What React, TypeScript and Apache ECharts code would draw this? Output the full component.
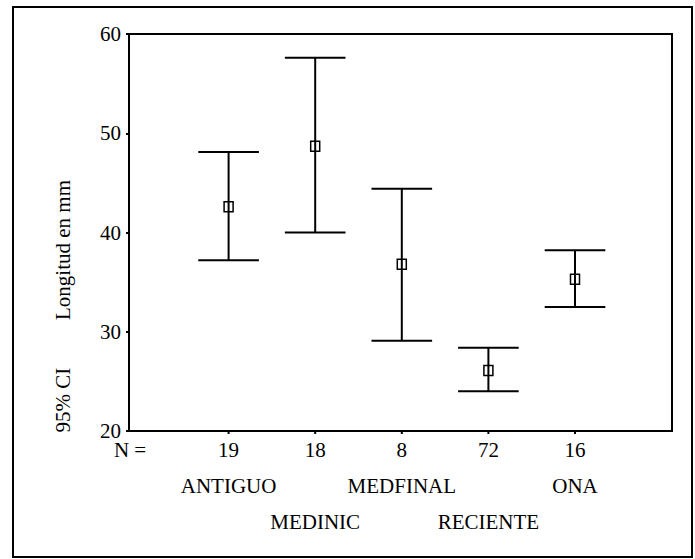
import React, { useEffect, useRef } from "react";
import * as echarts from "echarts";

const groups = ["ANTIGUO", "MEDINIC", "MEDFINAL", "RECIENTE", "ONA"];
const counts = [19, 18, 8, 72, 16];
const means = [42.6, 48.7, 36.8, 26.1, 35.3];
const lower = [37.2, 40.0, 29.1, 24.0, 32.5];
const upper = [48.1, 57.6, 44.4, 28.4, 38.2];
const yTicks = { min: 20, max: 60, interval: 10 };

const FONT = "'Liberation Serif', 'Times New Roman', serif";

export default function App() {
  const ref = useRef<HTMLDivElement>(null);
  useEffect(() => {
    if (!ref.current) return;
    const chart = echarts.init(ref.current, null, { renderer: "svg" });
    const data = groups.map((g, i) => [i, means[i], lower[i], upper[i], counts[i]]);
    const capHalf = 0.35;
    chart.setOption({
      animation: false,
      backgroundColor: "#fff",
      grid: {
        left: 129,
        right: 23,
        top: 34,
        bottom: 128,
        show: true,
        borderColor: "#000",
        borderWidth: 2,
      },
      xAxis: {
        type: "value",
        min: -1.15,
        max: 5.12,
        axisLine: { show: true, onZero: false, lineStyle: { color: "#000", width: 2 } },
        axisTick: { show: false },
        axisLabel: { show: false },
        splitLine: { show: false },
      },
      yAxis: {
        type: "value",
        min: yTicks.min,
        max: yTicks.max,
        interval: yTicks.interval,
        axisLine: { show: true, onZero: false, lineStyle: { color: "#000", width: 2 } },
        axisTick: { show: true, length: 3, lineStyle: { color: "#000", width: 2 } },
        axisLabel: {
          color: "#000",
          fontFamily: FONT,
          fontSize: 21,
          margin: 8,
        },
        splitLine: { show: false },
      },
      graphic: [
        {
          type: "rect",
          shape: { x: 13, y: 7, width: 679, height: 550 },
          style: { fill: "none", stroke: "#000", lineWidth: 2 },
          z: 10,
        },
        {
          type: "text",
          x: 63,
          y: 400,
          rotation: Math.PI / 2,
          style: {
            text: "95% CI",
            align: "center",
            verticalAlign: "middle",
            fontFamily: FONT,
            fontSize: 21,
            fill: "#000",
          },
        },
        {
          type: "text",
          x: 63,
          y: 250,
          rotation: Math.PI / 2,
          style: {
            text: "Longitud en mm",
            align: "center",
            verticalAlign: "middle",
            fontFamily: FONT,
            fontSize: 21,
            fill: "#000",
          },
        },
        {
          type: "text",
          x: 130,
          y: 450,
          style: {
            text: "N =",
            align: "center",
            verticalAlign: "middle",
            fontFamily: FONT,
            fontSize: 21,
            fill: "#000",
          },
        },
      ],
      series: [
        {
          type: "custom",
          data,
          clip: false,
          renderItem: (params: any, api: any) => {
            const x = api.value(0);
            const m = api.value(1);
            const lo = api.value(2);
            const hi = api.value(3);
            const n = api.value(4);
            const idx = params.dataIndex;
            const pTop = api.coord([x, hi]);
            const pBot = api.coord([x, lo]);
            const pMean = api.coord([x, m]);
            const pL = api.coord([x - capHalf, hi]);
            const pR = api.coord([x + capHalf, hi]);
            const pBase = api.coord([x, yTicks.min]);
            const lineStyle = { stroke: "#000", lineWidth: 2 };
            const font = { fontFamily: FONT, fontSize: 21, fill: "#000", align: "center", verticalAlign: "middle" };
            return {
              type: "group",
              children: [
                { type: "line", shape: { x1: pTop[0], y1: pTop[1], x2: pBot[0], y2: pBot[1] }, style: lineStyle },
                { type: "line", shape: { x1: pL[0], y1: pTop[1], x2: pR[0], y2: pTop[1] }, style: lineStyle },
                { type: "line", shape: { x1: pL[0], y1: pBot[1], x2: pR[0], y2: pBot[1] }, style: lineStyle },
                {
                  type: "rect",
                  shape: { x: pMean[0] - 4.5, y: pMean[1] - 5, width: 9, height: 10 },
                  style: { fill: "none", stroke: "#000", lineWidth: 1.5 },
                },
                { type: "line", shape: { x1: pBase[0], y1: pBase[1], x2: pBase[0], y2: pBase[1] + 3 }, style: lineStyle },
                { type: "text", x: pBase[0], y: 450, style: { ...font, text: String(n) } },
                {
                  type: "text",
                  x: pBase[0],
                  y: idx % 2 === 0 ? 486 : 522,
                  style: { ...font, text: groups[idx] },
                },
              ],
            };
          },
        },
      ],
    });
    return () => chart.dispose();
  }, []);
  return (
    <div
      ref={ref}
      style={{ position: "fixed", left: 0, top: 0, width: 695, height: 559 }}
    />
  );
}
